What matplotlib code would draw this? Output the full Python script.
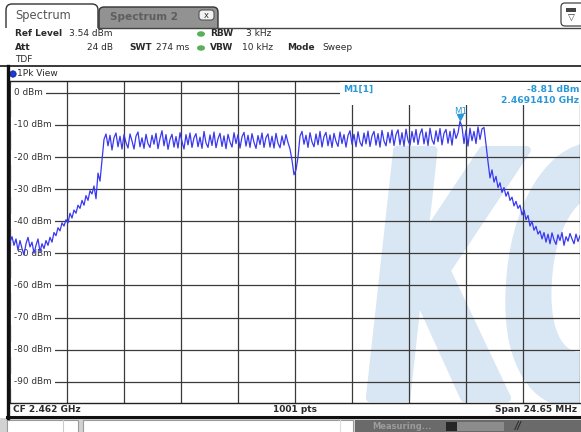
import numpy as np
import matplotlib
matplotlib.use("Agg")
import matplotlib.pyplot as plt
from matplotlib.patches import Rectangle, FancyBboxPatch, Ellipse, Circle, PathPatch
from matplotlib.textpath import TextPath
from matplotlib.font_manager import FontProperties
from matplotlib.transforms import Affine2D, blended_transform_factory

# ---------------- data ----------------
center_freq_ghz = 2.462
span_mhz = 24.65
ref_level_dbm = 3.54
sweep_points = 1001
rbw_text = "3 kHz"
vbw_text = "10 kHz"
att_text = "24 dB"
swt_text = "274 ms"
mode_text = "Sweep"
level_grid_dbm = [0, -10, -20, -30, -40, -50, -60, -70, -80, -90]
level_labels = ["0 dBm", "-10 dBm", "-20 dBm", "-30 dBm", "-40 dBm",
                "-50 dBm", "-60 dBm", "-70 dBm", "-80 dBm", "-90 dBm"]
marker_freq_ghz = 2.4691410
marker_level_dbm = -8.81

trace_noise_left = [-46.5, -44.8, -47.5, -45.5, -49.0, -46.0, -48.5, -50.5, -47.0,
                    -45.0, -48.0, -46.5, -50.0, -47.5, -45.5, -49.5, -47.0, -48.5]
trace_rise = [-46.0, -47.5, -45.0, -46.5, -43.5, -44.5, -42.0, -43.0, -40.5, -41.5,
              -39.5, -40.5, -37.5, -39.0, -36.5, -37.5, -35.0, -36.0, -33.5, -35.0,
              -32.0, -33.5, -30.5, -31.5, -29.0, -33.0, -25.0, -27.5, -21.0]
trace_band_lower = [-14.5, -12.8, -16.5, -13.2, -17.8, -14.0, -12.5, -16.8, -13.5, -17.5,
                    -13.0, -15.5, -17.2, -12.8, -15.0, -17.5, -13.5, -12.2, -16.8, -14.0,
                    -17.3, -12.9, -15.8, -17.0, -13.2, -16.0, -12.6, -17.4, -14.2, -11.8,
                    -16.5, -13.0, -17.6, -14.5, -12.9, -16.9, -13.6, -17.2, -12.4, -15.2,
                    -17.5, -13.0, -16.2, -12.5, -17.0, -14.0, -12.7, -16.8, -13.8, -17.3,
                    -12.0, -15.6, -17.0, -13.1, -16.4, -12.2, -17.1, -14.3, -12.6, -16.7,
                    -13.4, -17.4, -12.9, -15.3, -16.9, -12.4, -15.8, -13.0, -17.2, -13.7,
                    -12.3, -16.6, -13.2, -17.0, -12.7, -15.4, -17.3, -13.3, -16.1, -12.5,
                    -17.0, -13.9, -12.8, -16.9, -13.5, -17.2, -12.6, -15.7, -17.1, -13.4,
                    -16.3, -13.0, -15.5, -17.5]
trace_dc_dip = [-21.0, -25.5, -24.0, -20.0, -13.5]
trace_band_upper = [-12.0, -16.0, -13.2, -17.0, -12.4, -15.3, -16.8, -12.8, -16.2, -12.0,
                    -16.9, -13.6, -12.3, -16.5, -13.1, -17.0, -12.6, -15.1, -16.7, -12.2,
                    -15.8, -13.0, -16.9, -13.3, -11.8, -16.0, -12.9, -16.8, -12.1, -15.4,
                    -16.6, -12.5, -15.9, -11.9, -16.7, -13.4, -12.0, -16.3, -12.7, -16.9,
                    -11.7, -15.0, -16.5, -12.3, -15.6, -11.6, -16.4, -13.0, -11.5, -16.2,
                    -12.4, -16.6, -11.3, -14.8, -16.3, -12.0, -15.4, -11.4, -16.1, -12.8,
                    -11.2, -15.9, -12.2, -16.4, -11.0, -14.6, -16.0, -11.8, -15.2, -11.1,
                    -16.2, -12.6, -11.4, -15.7, -12.0, -16.3, -11.2, -14.2, -12.5, -8.8,
                    -10.6, -15.8, -11.6, -16.6, -11.0, -14.9, -12.0, -15.8, -10.6, -14.5,
                    -11.2, -10.8]
trace_fall = [-16.0, -21.5, -26.5, -24.0, -27.8, -26.0, -29.5, -28.0, -31.0, -29.5,
              -32.2, -30.8, -33.5, -32.5, -35.2, -33.8, -36.0, -35.0, -38.0, -36.5,
              -39.5, -38.2, -41.5, -40.0, -42.8, -41.6, -44.0, -43.0, -45.5, -43.5,
              -46.5, -44.0, -47.0, -43.6, -45.8, -47.2, -44.2, -46.0, -43.5, -47.5,
              -44.8, -46.2, -43.8, -45.5, -47.0, -44.0, -46.3, -44.5]

trace_dbm = np.array(trace_noise_left + trace_rise + trace_band_lower + trace_dc_dip
                     + trace_band_upper + trace_fall)
f_start = center_freq_ghz - span_mhz / 2000.0
f_stop = center_freq_ghz + span_mhz / 2000.0
freq_ghz = np.linspace(f_start, f_stop, len(trace_dbm))

# ---------------- figure ----------------
W, H = 581, 432
fig = plt.figure(figsize=(W / 100, H / 100), dpi=100, facecolor="white")
plt.rcParams["font.family"] = ["DejaVu Sans"]

def fx(x):
    return x / W

def fy(y):
    return 1 - y / H

plot_l, plot_r, plot_t, plot_b = 10, 580, 81.5, 402.5
ax = fig.add_axes([fx(plot_l), fy(plot_b), (plot_r - plot_l) / W, (plot_b - plot_t) / H])
ax.set_facecolor("white")

# watermark logo
tp = TextPath((0, 0), "KC", size=1,
              prop=FontProperties(family="DejaVu Sans", weight="bold", style="oblique"))
wm_tr = Affine2D().scale(192 / W, 340 / H).translate(fx(366), fy(398)) + fig.transFigure
wm = PathPatch(tp, transform=wm_tr, facecolor="#d9e6f3", edgecolor="#d9e6f3",
               lw=6, joinstyle="round", zorder=0.2)
ax.add_patch(wm)

ax.set_xlim(f_start, f_stop)
ax.set_ylim(ref_level_dbm - 100, ref_level_dbm)
ax.set_xticks(np.linspace(f_start, f_stop, 11))
ax.set_yticks(level_grid_dbm)
ax.set_axisbelow(True)
ax.grid(True, color="#3a3a3a", lw=0.9)
ax.tick_params(length=0, labelbottom=False, labelleft=False)
for s in ["left", "right"]:
    ax.spines[s].set_visible(False)
for s in ["top", "bottom"]:
    ax.spines[s].set_color("#222222")
    ax.spines[s].set_linewidth(1.0)

btr = blended_transform_factory(ax.transAxes, ax.transData)
for lv, lab in zip(level_grid_dbm, level_labels):
    ax.text(4 / 570, lv, lab, transform=btr, fontsize=6.4, color="#333333",
            ha="left", va="center", zorder=1.5,
            bbox=dict(facecolor="white", edgecolor="none", pad=2.2))

ax.plot(freq_ghz, trace_dbm, color="#3838f2", lw=0.9, zorder=3)

mk_color = "#2a98d8"
ax.plot([marker_freq_ghz], [marker_level_dbm + 1.3], marker="v", ms=5,
        color=mk_color, zorder=4, ls="none")
ax.text(marker_freq_ghz, marker_level_dbm + 3.1, "M1", ha="center", va="center",
        fontsize=6.2, color=mk_color, zorder=4)

# ---------------- overlay (pixel coordinates) ----------------
ov = fig.add_axes([0, 0, 1, 1])
ov.set_xlim(0, W)
ov.set_ylim(H, 0)
ov.axis("off")

dark = "#2a2a2a"
hdr = 6.5

# tabs
ov.add_patch(FancyBboxPatch((6, 4), 92, 30, boxstyle="round,pad=0,rounding_size=6",
                            fc="white", ec="#333333", lw=1.0))
ov.add_patch(FancyBboxPatch((99, 7), 119, 28, boxstyle="round,pad=0,rounding_size=5",
                            fc="#929292", ec="#333333", lw=1.0))
ov.add_patch(Rectangle((3, 27.8), 220, 10, fc="white", ec="none"))
ov.plot([97.5, W], [27.5, 27.5], color="#444444", lw=1.0)
ov.text(15, 16, "Spectrum", fontsize=8.3, color="#555555", ha="left", va="center")
ov.text(110, 17, "Spectrum 2", fontsize=7.6, color="#5e5e5e", weight="bold",
        ha="left", va="center")
ov.add_patch(FancyBboxPatch((199, 10), 15, 10, boxstyle="round,pad=0,rounding_size=3",
                            fc="#f2f2f2", ec="#555555", lw=0.8))
ov.text(206.5, 15, "x", fontsize=6, color="#333333", ha="center", va="center")
# top-right icon
ov.add_patch(FancyBboxPatch((561, 3), 24, 23, boxstyle="round,pad=0,rounding_size=4",
                            fc="white", ec="#444444", lw=0.9))
ov.add_patch(Rectangle((566, 8), 10, 3.5, fc="#444444", ec="none"))
ov.text(571, 18.5, "▽", fontsize=6.5, color="#333333", ha="center", va="center")

# header
ov.text(15, 34, "Ref Level", fontsize=hdr, weight="bold", color=dark, va="center")
ov.text(69, 34, f"{ref_level_dbm:.2f} dBm", fontsize=hdr, color=dark, va="center")
ov.text(15, 48, "Att", fontsize=hdr, weight="bold", color=dark, va="center")
ov.text(113, 48, att_text, fontsize=hdr, color=dark, va="center", ha="right")
ov.text(129, 48, "SWT", fontsize=hdr, weight="bold", color=dark, va="center")
ov.text(156, 48, swt_text, fontsize=hdr, color=dark, va="center")
ov.add_patch(Ellipse((201, 34), 8, 5.5, fc="#5aaf5a", ec="none"))
ov.add_patch(Ellipse((201, 48), 8, 5.5, fc="#5aaf5a", ec="none"))
ov.text(210, 34, "RBW", fontsize=hdr, weight="bold", color=dark, va="center")
ov.text(246, 34, rbw_text, fontsize=hdr, color=dark, va="center")
ov.text(210, 48, "VBW", fontsize=hdr, weight="bold", color=dark, va="center")
ov.text(242, 48, vbw_text, fontsize=hdr, color=dark, va="center")
ov.text(287, 48, "Mode", fontsize=hdr, weight="bold", color=dark, va="center")
ov.text(322, 48, mode_text, fontsize=hdr, color=dark, va="center")
ov.text(15, 60, "TDF", fontsize=hdr, color=dark, va="center")

# panel frame
ov.plot([0, W], [66, 66], color="#2a2a2a", lw=1.3)
ov.plot([8.3, 8.3], [66, 417.5], color="#111111", lw=2.4)
ov.add_patch(Circle((13, 74), 3.2, fc="#1a3adc", ec="#0a1a80", lw=0.5))
ov.text(17, 74, "1Pk View", fontsize=hdr, color=dark, va="center")

# marker info box
ov.add_patch(Rectangle((340, 82.3), W - 340, 23.0, fc="white", ec="none"))
ov.text(343, 89, "M1[1]", fontsize=6.6, weight="bold", color=mk_color, va="center")
ov.text(579, 89, f"{marker_level_dbm:.2f} dBm", fontsize=6.6, weight="bold",
        color=mk_color, va="center", ha="right")
ov.text(579, 100.5, f"{marker_freq_ghz:.7f} GHz", fontsize=6.6, weight="bold",
        color=mk_color, va="center", ha="right")

# bottom bar
ov.text(13, 409.5, f"CF {center_freq_ghz:.3f} GHz", fontsize=hdr, weight="bold",
        color=dark, va="center")
ov.text(295, 409.5, f"{sweep_points} pts", fontsize=hdr, weight="bold", color=dark,
        va="center", ha="center")
ov.text(577, 409.5, f"Span {span_mhz:.2f} MHz", fontsize=hdr, weight="bold",
        color=dark, va="center", ha="right")
ov.plot([7, W], [416.6, 416.6], color="#111111", lw=2.2)

# status row
ov.add_patch(Rectangle((0, 418.2), W, 14, fc="#d2d2d2", ec="none"))
ov.add_patch(Rectangle((7, 419.5), 71, 14, fc="white", ec="#9a9a9a", lw=0.8))
ov.plot([63, 63], [419.5, 432], color="#cccccc", lw=0.8)
ov.add_patch(Rectangle((83, 419.5), 270, 14, fc="white", ec="#9a9a9a", lw=0.8))
ov.plot([340, 340], [419.5, 432], color="#dddddd", lw=0.8)
ov.add_patch(Rectangle((355, 419.5), W - 355, 14, fc="#6a6a6a", ec="none"))
ov.text(372, 426.5, "Measuring...", fontsize=6, weight="bold", color="#9c9c9c",
        va="center")
ov.add_patch(Rectangle((446, 421.5), 58, 9, fc="#8c8c8c", ec="none"))
ov.add_patch(Rectangle((446, 421.5), 11, 9, fc="#262626", ec="none"))
ov.text(518, 426.5, "//", fontsize=7, weight="bold", style="italic", color="#2a2a2a",
        va="center", ha="center")

fig.savefig("out.png", dpi=100, facecolor="white")
